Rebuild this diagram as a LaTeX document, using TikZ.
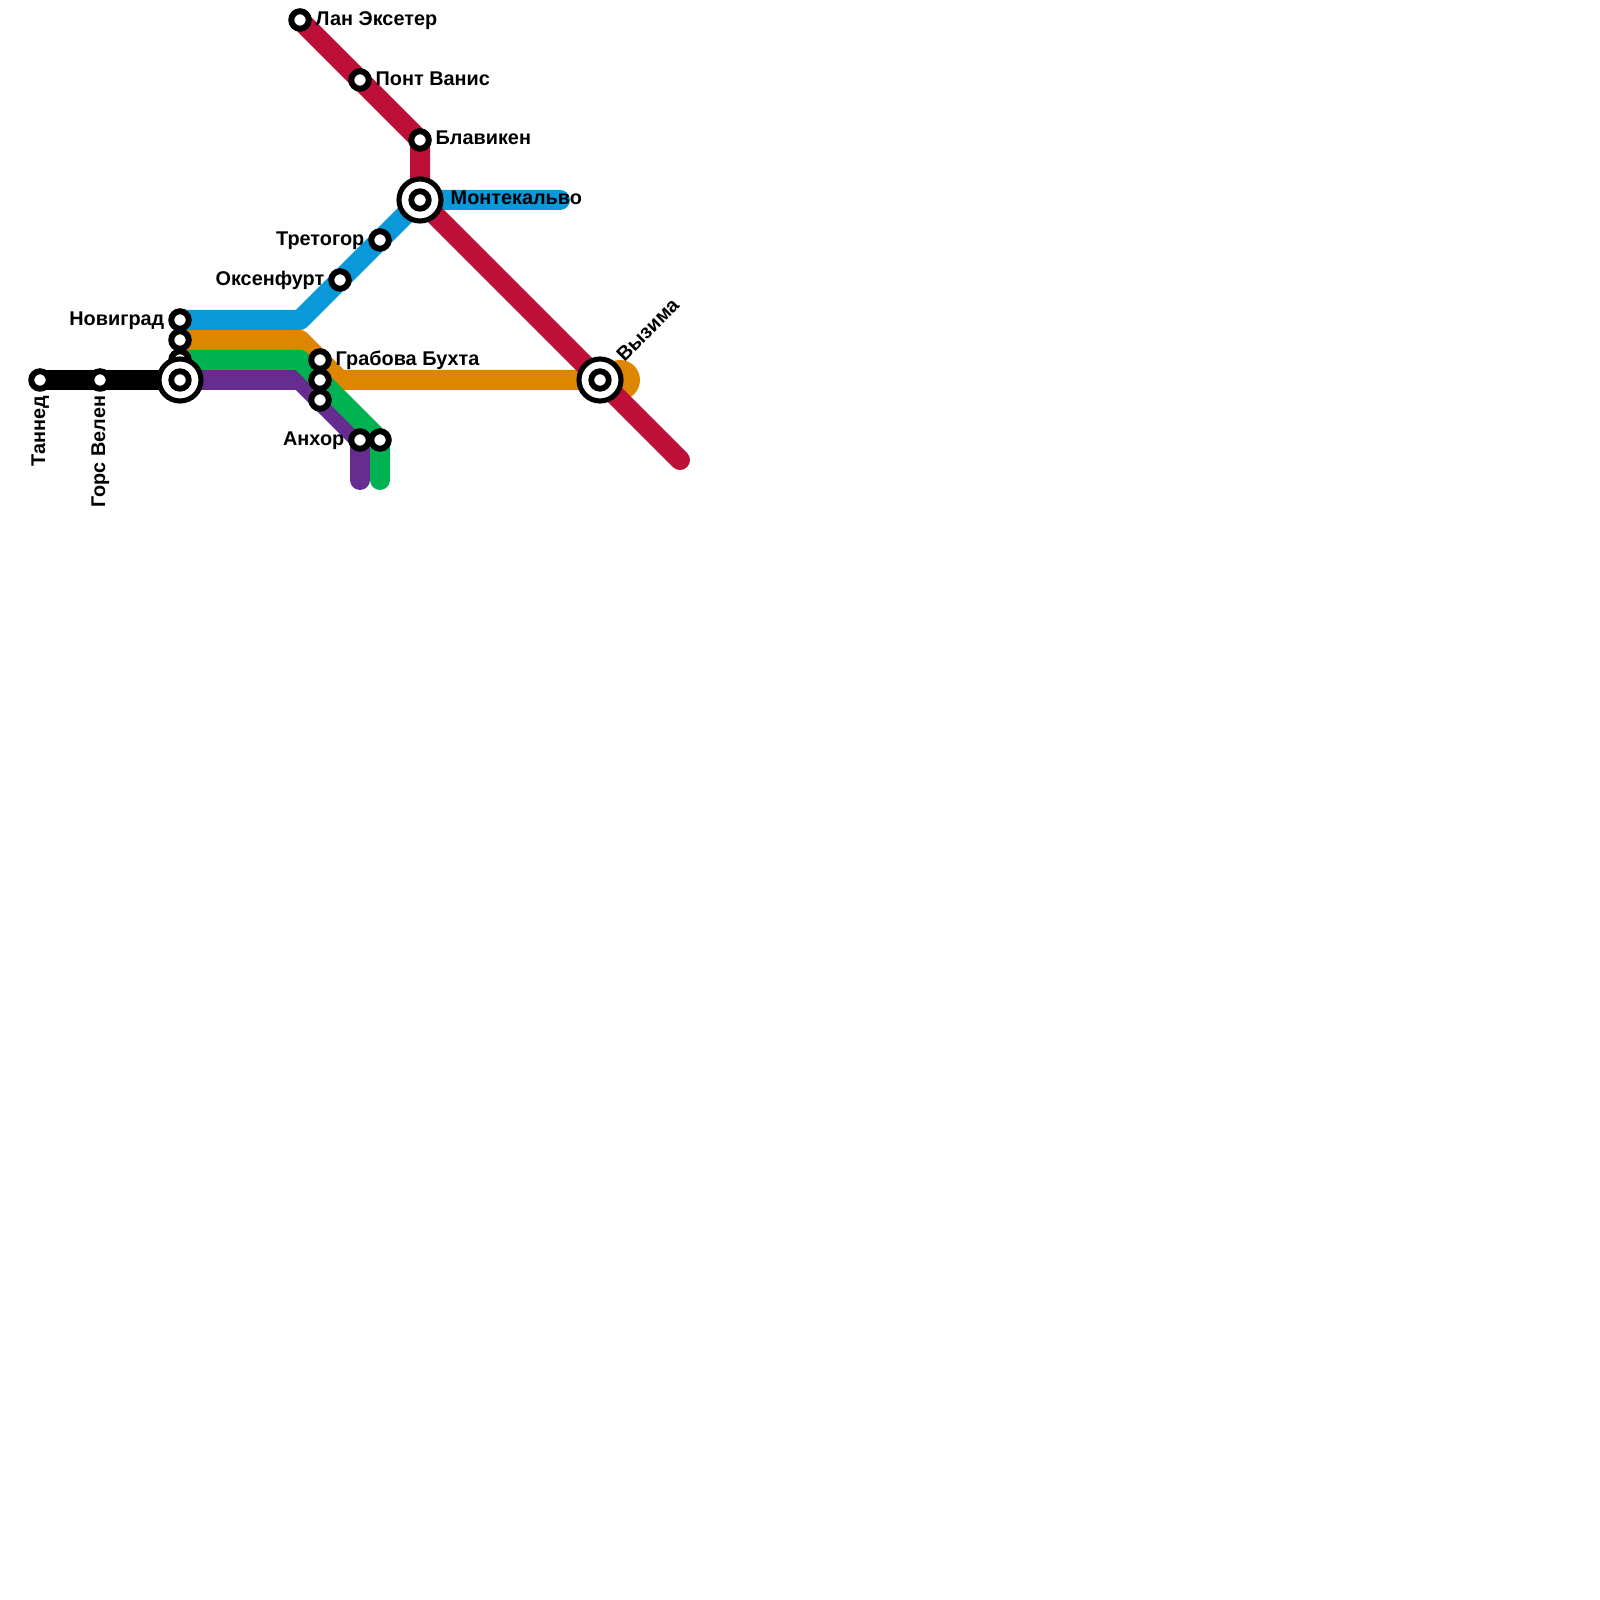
\documentclass[tikz,border=0pt]{standalone}
\usepackage{fontspec}
\setmainfont{Liberation Sans}
\usetikzlibrary{positioning}
\definecolor{linered}{HTML}{BD1038}
\definecolor{lineblue}{HTML}{0998DA}
\definecolor{lineorange}{HTML}{DE8600}
\definecolor{linegreen}{HTML}{00B251}
\definecolor{linepurple}{HTML}{662C90}
\tikzset{
    metro/.style={line width=5.69pt, line cap=round, line join=round},
    stopdot/.style={circle, draw=black, fill=white, line width=1.7pt, minimum size=0.175cm, inner sep=0pt},
    hub/.style={circle, draw=black, fill=white, line width=1.45pt, minimum size=0.42cm, inner sep=0pt},
    hubcore/.style={circle, draw=black, fill=white, line width=1.65pt, minimum size=0.175cm, inner sep=0pt},
    stopname/.style={font=\bfseries\fontsize{5.65}{7}\selectfont, inner sep=0pt, text=black}
}
\begin{document}
\begin{tikzpicture}
    \useasboundingbox (0,0) rectangle (16,-16);

    \coordinate (lan) at (3.0,-0.2);
    \coordinate (pont) at (3.6,-0.8);
    \coordinate (blaviken) at (4.2,-1.4);
    \coordinate (montekalvo) at (4.2,-2.0);
    \coordinate (tretogor) at (3.8,-2.4);
    \coordinate (oxenfurt) at (3.4,-2.8);
    \coordinate (novigrad) at (1.8,-3.2);
    \coordinate (novigradb) at (1.8,-3.4);
    \coordinate (novigradc) at (1.8,-3.6);
    \coordinate (junction) at (1.8,-3.8);
    \coordinate (tanned) at (0.4,-3.8);
    \coordinate (gors) at (1.0,-3.8);
    \coordinate (grabova) at (3.2,-3.6);
    \coordinate (grabovab) at (3.2,-3.8);
    \coordinate (grabovac) at (3.2,-4.0);
    \coordinate (anhor) at (3.6,-4.4);
    \coordinate (anhorb) at (3.8,-4.4);
    \coordinate (vyzima) at (6.0,-3.8);

    \coordinate (blueturn) at (3.0,-3.2);
    \coordinate (blueend) at (5.6,-2.0);
    \coordinate (orangeturn) at (3.0,-3.4);
    \coordinate (orangeflat) at (3.4,-3.8);
    \coordinate (orangeend) at (6.2,-3.8);
    \coordinate (greenturn) at (3.0,-3.6);
    \coordinate (greenend) at (3.8,-4.8);
    \coordinate (purpleturn) at (3.0,-3.8);
    \coordinate (purpleend) at (3.6,-4.8);
    \coordinate (redend) at (6.8,-4.6);

    \draw[metro, black] (tanned) -- (junction);
    \draw[metro, linepurple] (junction) -- (purpleturn) -- (anhor) -- (purpleend);
    \fill[lineorange] (orangeend) circle (0.2);
    \draw[metro, lineorange] (novigradb) -- (orangeturn) -- (orangeflat) -- (orangeend);
    \draw[metro, linegreen] (novigradc) -- (greenturn) -- (anhorb) -- (greenend);
    \draw[metro, lineblue] (novigrad) -- (blueturn) -- (montekalvo) -- (blueend);
    \draw[metro, linered] (lan) -- (blaviken) -- (montekalvo) -- (redend);

    \foreach \s in {lan,pont,blaviken,tretogor,oxenfurt,novigrad,novigradb,novigradc,tanned,gors,grabova,grabovab,grabovac,anhor,anhorb}
        \node[stopdot] (stop-\s) at (\s) {};
    \foreach \s in {montekalvo,junction,vyzima} {
        \node[hub] (hub-\s) at (\s) {};
        \node[hubcore] (core-\s) at (\s) {};
    }

    \node[stopname, anchor=base west] (lanname) at (3.15,-0.26) {Лан Эксетер};
    \node[stopname, anchor=base west] (pontname) at (3.75,-0.86) {Понт Ванис};
    \node[stopname, anchor=base west] (blavikenname) at (4.35,-1.45) {Блавикен};
    \node[stopname, anchor=base west] (montekalvoname) at (4.5,-2.05) {Монтекальво};
    \node[stopname, anchor=base east] (tretogorname) at (3.65,-2.46) {Третогор};
    \node[stopname, anchor=base east] (oxenfurtname) at (3.25,-2.86) {Оксенфурт};
    \node[stopname, anchor=base east] (novigradname) at (1.65,-3.26) {Новиград};
    \node[stopname, anchor=base west] (grabovaname) at (3.35,-3.66) {Грабова Бухта};
    \node[stopname, anchor=base east] (anhorname) at (3.45,-4.46) {Анхор};
    \node[stopname, anchor=base east, rotate=90] (tannedname) at (0.45,-3.95) {Таннед};
    \node[stopname, anchor=base east, rotate=90] (gorsname) at (1.05,-3.95) {Горс Велен};
    \node[stopname, anchor=base west, rotate=45] (vyzimaname) at (6.24,-3.63) {Вызима};
\end{tikzpicture}
\end{document}
